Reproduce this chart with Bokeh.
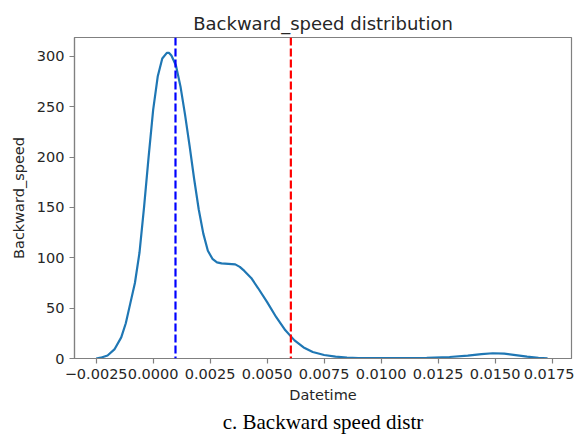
from bokeh.plotting import figure
from bokeh.models import Range1d, FixedTicker, Title, Span
from bokeh.embed import file_html
from bokeh.resources import INLINE

# KDE curve
kde_x = [-0.0025, -0.0023, -0.0020, -0.0017, -0.0014, -0.0012, -0.0010, -0.0008,
         -0.0006, -0.0004, -0.0002, 0.0000, 0.0002, 0.0004, 0.0006, 0.0007,
         0.0008, 0.0010, 0.0012, 0.0014, 0.0016, 0.0018, 0.0020, 0.0022,
         0.0024, 0.0026, 0.0028, 0.0030, 0.0033, 0.0036, 0.0038, 0.0040,
         0.0043, 0.0046, 0.0050, 0.0054, 0.0058, 0.0062, 0.0066, 0.0070,
         0.0075, 0.0080, 0.0085, 0.0090, 0.0100, 0.0110, 0.0120, 0.0130,
         0.0138, 0.0144, 0.0149, 0.0154, 0.0159, 0.0164, 0.0169, 0.0173]
kde_y = [0, 0.8, 3, 9, 21, 35, 55, 75,
         105, 150, 200, 247, 280, 298, 303.5, 303.5,
         301, 291, 270, 242, 211, 178, 148, 124,
         107, 99, 95.5, 94.5, 94, 93.5, 91, 87,
         80, 70, 56, 41, 28, 18, 11, 6.5,
         3.5, 1.8, 1, 0.5, 0.3, 0.3, 0.6, 1.5,
         2.8, 4.3, 5.2, 4.8, 3.3, 1.8, 0.7, 0.2]

blue_line_x = 0.00098   # blue dashed marker
red_line_x = 0.00604    # red dashed marker

x_ticks = [-0.0025, 0.0, 0.0025, 0.005, 0.0075, 0.01, 0.0125, 0.015, 0.0175]
x_tick_labels = ["\u22120.0025", "0.0000", "0.0025", "0.0050", "0.0075",
                 "0.0100", "0.0125", "0.0150", "0.0175"]
y_ticks = [0, 50, 100, 150, 200, 250, 300]

title_text = "Backward_speed distribution"
x_label = "Datetime"
y_label = "Backward_speed"
caption = "c. Backward speed distr"

FONT = "DejaVu Sans"
TXT = "#262626"
SPINE = "#808080"

p = figure(width=574, height=436, output_backend="svg", toolbar_location=None,
           x_range=Range1d(-0.00345, 0.01835), y_range=Range1d(0, 318.8),
           min_border_left=74, min_border_right=3, min_border_top=37,
           min_border_bottom=10)

p.title.text = title_text
p.title.align = "center"
p.title.text_font = FONT
p.title.text_font_size = "18px"
p.title.text_font_style = "normal"
p.title.text_color = TXT
p.title.standoff = 8

p.xgrid.visible = False
p.ygrid.visible = False
p.outline_line_color = SPINE
p.outline_line_width = 1.2

for ax in (p.xaxis[0], p.yaxis[0]):
    ax.axis_line_color = SPINE
    ax.axis_line_width = 1.2
    ax.major_tick_line_color = SPINE
    ax.major_tick_line_width = 1.2
    ax.major_tick_out = 5
    ax.major_tick_in = 0
    ax.minor_tick_line_color = None
    ax.major_label_text_font = FONT
    ax.major_label_text_font_size = "14.5px"
    ax.major_label_text_color = TXT
    ax.axis_label_text_font = FONT
    ax.axis_label_text_font_size = "14.5px"
    ax.axis_label_text_font_style = "normal"
    ax.axis_label_text_color = TXT

p.xaxis[0].ticker = FixedTicker(ticks=x_ticks)
p.xaxis[0].major_label_overrides = {t: l for t, l in zip(x_ticks, x_tick_labels)}
p.xaxis[0].axis_label = x_label
p.xaxis[0].axis_label_standoff = 5
p.yaxis[0].ticker = FixedTicker(ticks=y_ticks)
p.yaxis[0].axis_label = y_label
p.yaxis[0].axis_label_standoff = 7

p.line(kde_x, kde_y, line_color="#1f77b4", line_width=2.2)

p.add_layout(Span(location=blue_line_x, dimension="height", line_color="blue",
                  line_width=2.2, line_dash="8 3"))
p.add_layout(Span(location=red_line_x, dimension="height", line_color="red",
                  line_width=2.2, line_dash="8 3"))

cap = Title(text=caption, align="center", text_font="Liberation Serif",
            text_font_size="21px", text_font_style="normal", text_color="black",
            standoff=5)
p.add_layout(cap, "below")

open("out.html", "w").write(file_html(p, INLINE))
